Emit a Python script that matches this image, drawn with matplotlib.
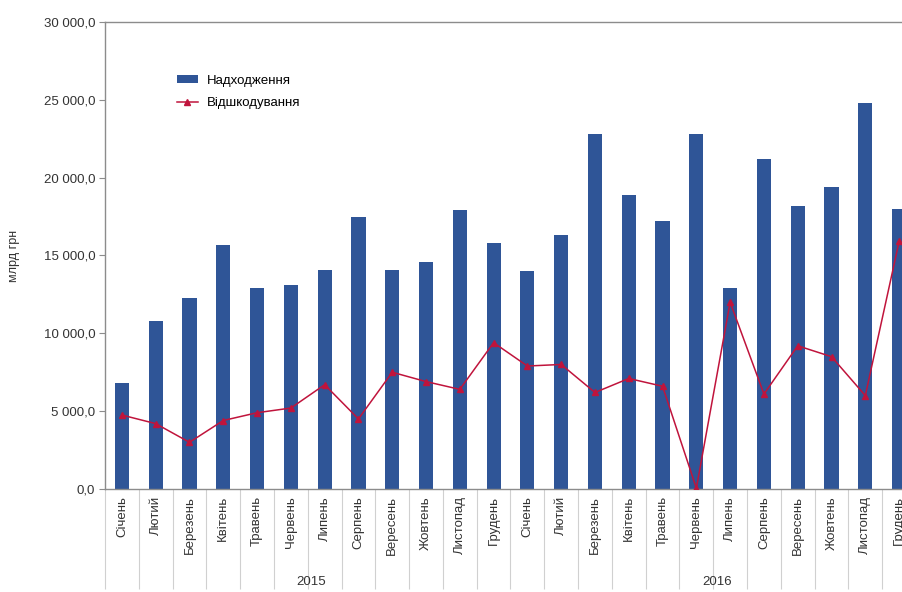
import numpy as np
import matplotlib
matplotlib.use("Agg")
import matplotlib.pyplot as plt
from matplotlib.ticker import FuncFormatter, FixedLocator

plt.rcParams['font.family'] = ['Liberation Sans', 'DejaVu Sans']

# months (same for both years)
months = ["Січень", "Лютий", "Березень", "Квітень", "Травень", "Червень",
          "Липень", "Серпень", "Вересень", "Жовтень", "Листопад", "Грудень"]
years = ["2015", "2016"]

# надходження, млрд грн
income_2015 = [6800, 10800, 12300, 15700, 12900, 13100,
               14100, 17500, 14100, 14600, 17900, 15800]
income_2016 = [14000, 16300, 22800, 18900, 17200, 22800,
               12900, 21200, 18200, 19400, 24800, 18000]

# відшкодування, млрд грн
refund_2015 = [4750, 4200, 3000, 4400, 4900, 5200,
               6700, 4500, 7500, 6900, 6400, 9400]
refund_2016 = [7900, 8000, 6200, 7100, 6600, 50,
               12000, 6100, 9200, 8500, 6000, 15900]

labels = months + months
income = income_2015 + income_2016
refund = refund_2015 + refund_2016
x = np.arange(len(labels))

bar_color = "#2F5597"
line_color = "#C0143C"
axis_color = "#8C8C8C"

fig = plt.figure(figsize=(9.03, 5.92), dpi=100)
# axes runs past the right edge of the figure, as in the original crop
ax = fig.add_axes([105 / 903, 1 - 489 / 592, 811 / 903, 467 / 592])

bars = ax.bar(x, income, width=0.42, color=bar_color, label="Надходження", zorder=2)
line, = ax.plot(x, refund, color=line_color, lw=1.1, marker="^", markersize=4,
                label="Відшкодування", zorder=3)

ax.set_xlim(-0.5, len(labels) - 0.5)
ax.set_ylim(0, 30000)
ax.set_yticks(np.arange(0, 30001, 5000))
ax.yaxis.set_major_formatter(FuncFormatter(
    lambda v, p: f"{v:,.1f}".replace(",", " ").replace(".", ",")))
ax.tick_params(axis="y", direction="out", length=4, color=axis_color,
               labelsize=9.5, labelcolor="#333333", pad=3)

ax.set_xticks(x)
ax.set_xticklabels(labels, rotation=90, fontsize=9.5, color="#333333")
ax.tick_params(axis="x", which="major", length=0, pad=5)
ax.xaxis.set_minor_locator(FixedLocator(np.arange(-0.5, len(labels), 1.0)))
ax.tick_params(axis="x", which="minor", length=72, color="#D0D0D0", width=0.8)

for i, yr in enumerate(years):
    ax.text(i * 12 + 5.6, -0.2, yr, transform=ax.get_xaxis_transform(),
            ha="center", va="center", fontsize=9.5, color="#333333")

for side in ["left", "top", "bottom"]:
    ax.spines[side].set_color(axis_color)
    ax.spines[side].set_linewidth(1.0)
ax.spines["right"].set_visible(False)

ax.set_ylabel("млрд грн", fontsize=9, color="#333333")
ax.yaxis.set_label_coords(-0.105, 0.5)

ax.legend(handles=[bars, line], loc="upper left",
          bbox_to_anchor=(165 / 903, 1 - 63 / 592),
          bbox_transform=fig.transFigure, frameon=False, fontsize=9.5,
          handlelength=1.6, handleheight=0.5, labelspacing=0.8, handletextpad=0.7)

fig.savefig("out.png", dpi=100)
